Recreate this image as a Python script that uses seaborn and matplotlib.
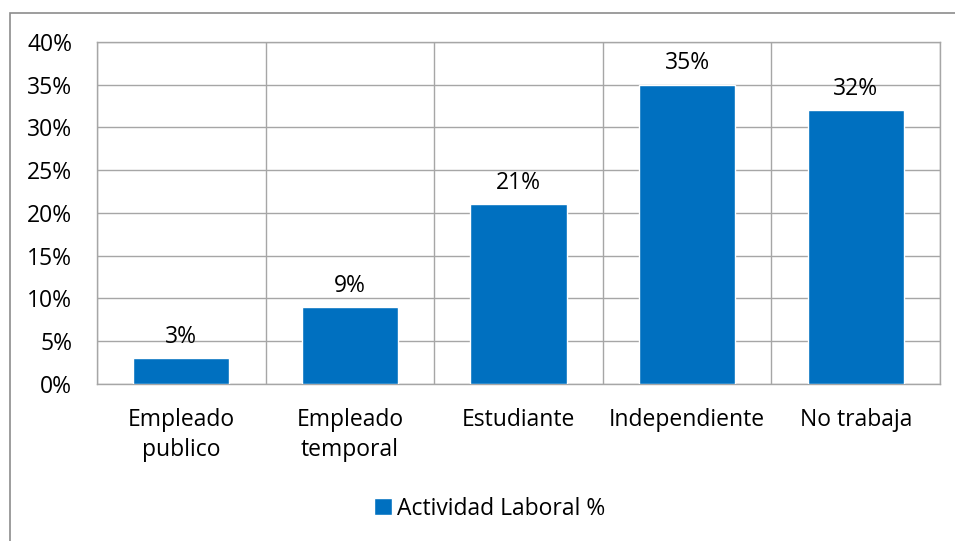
import matplotlib
matplotlib.use("Agg")
import matplotlib.pyplot as plt
import seaborn as sns
import pandas as pd
from matplotlib.patches import Rectangle, Patch

categorias = ["Empleado\npublico", "Empleado\ntemporal", "Estudiante", "Independiente", "No trabaja"]
valores = [3, 9, 21, 35, 32]
ticks_y = [0, 5, 10, 15, 20, 25, 30, 35, 40]
serie = "Actividad Laboral %"

sns.set_style("white")
plt.rcParams['font.family'] = ['Open Sans', 'DejaVu Sans']
plt.rcParams['text.color'] = 'black'
plt.rcParams['xtick.color'] = 'black'
plt.rcParams['ytick.color'] = 'black'

df = pd.DataFrame({"categoria": categorias, "valor": valores})

fig = plt.figure(figsize=(9.55, 5.41), dpi=100)
ax = fig.add_axes([0.1016, 0.2902, 0.8827, 0.6322])

gris = "#a6a6a6"
azul = "#0070c0"
fs = 16.5

sns.barplot(data=df, x="categoria", y="valor", color=azul, width=0.57,
            saturation=1, ax=ax, zorder=3)

ax.set_xlim(-0.5, len(categorias) - 0.5)
ax.set_ylim(0, 40)
ax.set_yticks(ticks_y)
ax.set_yticklabels([f"{t}%" for t in ticks_y], fontsize=fs)
ax.set_xticklabels(categorias, fontsize=fs, linespacing=1.35)
ax.tick_params(axis="both", length=0)
ax.tick_params(axis="y", pad=18)
ax.tick_params(axis="x", pad=17)
ax.set_xlabel("")
ax.set_ylabel("")

for t in ticks_y:
    ax.axhline(t, color=gris, lw=1, zorder=1)
for i in range(len(categorias) + 1):
    ax.axvline(i - 0.5, color=gris, lw=1, zorder=1)
for s in ax.spines.values():
    s.set_color(gris)
    s.set_linewidth(1)

for i, v in enumerate(valores):
    ax.text(i, v + 1.1, f"{v}%", ha="center", va="bottom", fontsize=fs, zorder=4)

leg = fig.legend(handles=[Patch(facecolor=azul, label=serie)], loc="center",
                 bbox_to_anchor=(0.513, 0.06), frameon=False, fontsize=fs,
                 handlelength=0.75, handleheight=0.75, handletextpad=0.25)

fig.patches.append(Rectangle((9.5 / 955, -0.1), 1.2, 1.1 - 12.5 / 541,
                             transform=fig.transFigure, fill=False,
                             edgecolor="#8c8c8c", lw=1.2))

plt.savefig("out.png", dpi=100)
